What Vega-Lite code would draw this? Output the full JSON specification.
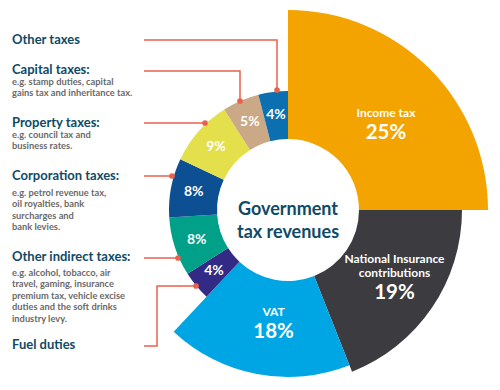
{
  "$schema": "https://vega.github.io/schema/vega-lite/v6.json",
  "width": 400,
  "height": 400,
  "autosize": {"type": "none"},
  "padding": {"left": 88, "top": 10, "right": 0, "bottom": 0},
  "background": "white",
  "config": {"view": {"stroke": null}, "font": "Lato"},
  "datasets": {
    "taxes": [
      {"cat": "Income tax", "name_top": "", "name": "Income tax", "pct": "25%", "value": 25, "rank": 1},
      {"cat": "National Insurance contributions", "name_top": "National Insurance", "name": "contributions", "pct": "19%", "value": 19, "rank": 2},
      {"cat": "VAT", "name_top": "", "name": "VAT", "pct": "18%", "value": 18, "rank": 3},
      {"cat": "Fuel duties", "name_top": "", "name": "", "pct": "4%", "value": 4, "rank": 4},
      {"cat": "Other indirect taxes", "name_top": "", "name": "", "pct": "8%", "value": 8, "rank": 5},
      {"cat": "Corporation taxes", "name_top": "", "name": "", "pct": "8%", "value": 8, "rank": 6},
      {"cat": "Property taxes", "name_top": "", "name": "", "pct": "9%", "value": 9, "rank": 7},
      {"cat": "Capital taxes", "name_top": "", "name": "", "pct": "5%", "value": 5, "rank": 8},
      {"cat": "Other taxes", "name_top": "", "name": "", "pct": "4%", "value": 4, "rank": 9}
    ],
    "notes": [
      {"label": "Other taxes", "desc": "", "x": 12, "y_title": 40, "y_desc": null},
      {"label": "Capital taxes:", "desc": "e.g. stamp duties, capital\ngains tax and inheritance tax.", "x": 12, "y_title": 70, "y_desc": 85},
      {"label": "Property taxes:", "desc": "e.g. council tax and\nbusiness rates.", "x": 12, "y_title": 123, "y_desc": 138},
      {"label": "Corporation taxes:", "desc": "e.g. petrol revenue tax,\noil royalties, bank\nsurcharges and\nbank levies.", "x": 12, "y_title": 176, "y_desc": 196},
      {"label": "Other indirect taxes:", "desc": "e.g. alcohol, tobacco, air\ntravel, gaming, insurance\npremium tax, vehicle excise\nduties and the soft drinks\nindustry levy.", "x": 12, "y_title": 257, "y_desc": 276},
      {"label": "Fuel duties", "desc": "", "x": 12, "y_title": 345, "y_desc": null}
    ],
    "leaders": [
      {"g": "Other taxes", "i": 1, "x": 144, "y": 40},
      {"g": "Other taxes", "i": 2, "x": 277, "y": 40},
      {"g": "Other taxes", "i": 3, "x": 277, "y": 90},
      {"g": "Capital taxes", "i": 1, "x": 144, "y": 71},
      {"g": "Capital taxes", "i": 2, "x": 240, "y": 71},
      {"g": "Capital taxes", "i": 3, "x": 240, "y": 101},
      {"g": "Property taxes", "i": 1, "x": 144, "y": 123},
      {"g": "Property taxes", "i": 2, "x": 205, "y": 123},
      {"g": "Corporation taxes", "i": 1, "x": 144, "y": 176},
      {"g": "Corporation taxes", "i": 2, "x": 172, "y": 176},
      {"g": "Other indirect taxes", "i": 1, "x": 144, "y": 258},
      {"g": "Other indirect taxes", "i": 2, "x": 178, "y": 258},
      {"g": "Fuel duties", "i": 1, "x": 144, "y": 346},
      {"g": "Fuel duties", "i": 2, "x": 157, "y": 346},
      {"g": "Fuel duties", "i": 3, "x": 157, "y": 286},
      {"g": "Fuel duties", "i": 4, "x": 196, "y": 286}
    ],
    "dots": [
      {"g": "Other taxes", "x": 277, "y": 90},
      {"g": "Capital taxes", "x": 240, "y": 101},
      {"g": "Property taxes", "x": 205, "y": 123},
      {"g": "Corporation taxes", "x": 172, "y": 176},
      {"g": "Other indirect taxes", "x": 178, "y": 258},
      {"g": "Fuel duties", "x": 196, "y": 286}
    ]
  },
  "layer": [
    {
      "data": {"name": "taxes"},
      "mark": {"type": "arc", "radius2": 71, "strokeWidth": 0},
      "encoding": {
        "theta": {"field": "value", "type": "quantitative", "stack": true},
        "order": {"field": "rank", "type": "quantitative"},
        "radius": {"field": "value", "type": "quantitative", "scale": {"type": "linear", "domain": [4, 9, 18, 19, 25], "range": [119, 119, 167, 174, 200]}},
        "color": {
          "field": "cat", "type": "nominal", "legend": null,
          "scale": {
            "domain": ["Income tax", "National Insurance contributions", "VAT", "Fuel duties", "Other indirect taxes", "Corporation taxes", "Property taxes", "Capital taxes", "Other taxes"],
            "range": ["#F4A400", "#3B3B40", "#00A6E4", "#322A84", "#00A089", "#0C4F93", "#E4E04B", "#CBA986", "#0B6FB0"]
          }
        }
      }
    },
    {
      "data": {"name": "taxes"},
      "mark": {"type": "text", "baseline": "middle", "fontSize": 12, "fontWeight": "bold", "color": "white", "dx": 6, "dy": -19.5},
      "encoding": {
        "theta": {"field": "value", "type": "quantitative", "stack": true},
        "order": {"field": "rank", "type": "quantitative"},
        "detail": {"field": "cat", "type": "nominal"},
        "radius": {"field": "value", "type": "quantitative", "scale": {"type": "linear", "domain": [18, 19, 25], "range": [109, 121.5, 130]}},
        "text": {"field": "name_top"}
      }
    },
    {
      "data": {"name": "taxes"},
      "mark": {"type": "text", "baseline": "middle", "fontSize": 12, "fontWeight": "bold", "color": "white", "dx": 6, "dy": -5},
      "encoding": {
        "theta": {"field": "value", "type": "quantitative", "stack": true},
        "order": {"field": "rank", "type": "quantitative"},
        "detail": {"field": "cat", "type": "nominal"},
        "radius": {"field": "value", "type": "quantitative", "scale": {"type": "linear", "domain": [18, 19, 25], "range": [109, 121.5, 130]}},
        "text": {"field": "name"}
      }
    },
    {
      "data": {"name": "taxes"},
      "mark": {"type": "text", "baseline": "middle", "fontSize": 20.5, "fontWeight": "bold", "color": "white", "dx": 6, "dy": 15},
      "encoding": {
        "theta": {"field": "value", "type": "quantitative", "stack": true},
        "order": {"field": "rank", "type": "quantitative"},
        "detail": {"field": "cat", "type": "nominal"},
        "radius": {"field": "value", "type": "quantitative", "scale": {"type": "linear", "domain": [18, 19, 25], "range": [109, 121.5, 130]}},
        "text": {"condition": {"test": "datum.value >= 10", "field": "pct", "type": "nominal"}, "value": ""}
      }
    },
    {
      "data": {"name": "taxes"},
      "mark": {"type": "text", "baseline": "middle", "fontSize": 14, "fontWeight": "bold", "color": "white", "radius": 96},
      "encoding": {
        "theta": {"field": "value", "type": "quantitative", "stack": true},
        "order": {"field": "rank", "type": "quantitative"},
        "detail": {"field": "cat", "type": "nominal"},
        "text": {"condition": {"test": "datum.value < 10", "field": "pct", "type": "nominal"}, "value": ""}
      }
    },
    {
      "data": {"values": [{"t": "Government\ntax revenues"}]},
      "mark": {"type": "text", "fontSize": 18, "fontWeight": "bold", "color": "#0F4A66", "lineBreak": "\n", "lineHeight": 23, "baseline": "middle", "align": "center"},
      "encoding": {"text": {"field": "t"}}
    },
    {
      "data": {"name": "leaders"},
      "mark": {"type": "line", "color": "#E8614D", "strokeWidth": 1.5},
      "encoding": {
        "x": {"field": "x", "type": "quantitative", "scale": {"domain": [88, 488], "nice": false, "zero": false}, "axis": null},
        "y": {"field": "y", "type": "quantitative", "scale": {"domain": [10, 410], "nice": false, "zero": false, "reverse": true}, "axis": null},
        "detail": {"field": "g", "type": "nominal"},
        "order": {"field": "i", "type": "quantitative"}
      }
    },
    {
      "data": {"name": "dots"},
      "mark": {"type": "point", "filled": true, "opacity": 1, "size": 32, "color": "#E8614D"},
      "encoding": {
        "x": {"field": "x", "type": "quantitative", "axis": null},
        "y": {"field": "y", "type": "quantitative", "axis": null}
      }
    },
    {
      "data": {"name": "notes"},
      "mark": {"type": "text", "align": "left", "baseline": "middle", "fontSize": 13, "fontWeight": "bold", "color": "#0F4A66"},
      "encoding": {
        "x": {"field": "x", "type": "quantitative", "axis": null},
        "y": {"field": "y_title", "type": "quantitative", "axis": null},
        "text": {"field": "label"}
      }
    },
    {
      "data": {"name": "notes"},
      "mark": {"type": "text", "align": "left", "baseline": "alphabetic", "fontSize": 9.3, "fontWeight": "bold", "color": "#6A6A6A", "lineBreak": "\n", "lineHeight": 11.4},
      "encoding": {
        "x": {"field": "x", "type": "quantitative", "axis": null},
        "y": {"field": "y_desc", "type": "quantitative", "axis": null},
        "text": {"field": "desc"}
      }
    }
  ],
  "resolve": {"scale": {"radius": "independent"}}
}
